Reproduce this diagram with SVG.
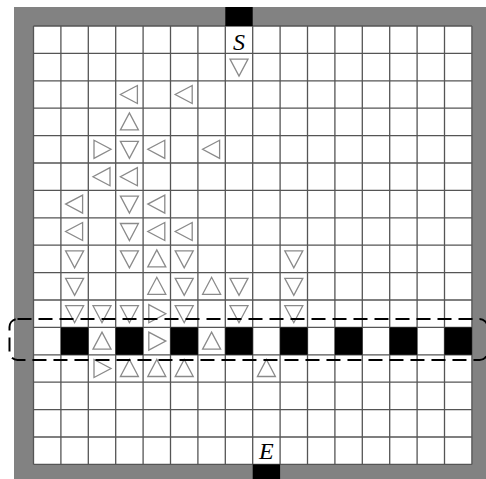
<svg xmlns="http://www.w3.org/2000/svg" xmlns:xlink="http://www.w3.org/1999/xlink" width="486" height="479" viewBox="0 0 486 479">
<style>
.grid{stroke:#555;stroke-width:1.3;fill:none}
.tri{fill:#fff;stroke:#8a8a8a;stroke-width:1.3;stroke-linejoin:miter}
.blk{fill:#000}
.lbl{font-family:"Liberation Serif","DejaVu Serif",serif;font-style:italic;font-size:24px;fill:#000;text-anchor:middle}
.dash{fill:none;stroke:#000;stroke-width:2;stroke-dasharray:14 7}
</style>
<defs>
<path id="D" class="tri" d="M-9,-8 L9,-8 L0,9 Z"/>
<path id="U" class="tri" d="M-9,8 L9,8 L0,-9 Z"/>
<path id="L" class="tri" d="M8,-9 L8,9 L-9,0 Z"/>
<path id="R" class="tri" d="M-8,-9 L-8,9 L9,0 Z"/>
</defs>
<rect x="0" y="0" width="486" height="479" fill="#fff"/>
<rect id="frame" x="14" y="7" width="472" height="472" fill="#828282"/>
<rect x="33.5" y="26" width="438.4" height="438.4" fill="#fff"/>
<g id="grid" class="grid">
<path d="M33.5,26V464.4M60.9,26V464.4M88.3,26V464.4M115.7,26V464.4M143.1,26V464.4M170.5,26V464.4M197.9,26V464.4M225.3,26V464.4M252.7,26V464.4M280.1,26V464.4M307.5,26V464.4M334.9,26V464.4M362.3,26V464.4M389.7,26V464.4M417.1,26V464.4M444.5,26V464.4M471.9,26V464.4"/>
<path d="M33.5,26H471.9M33.5,53.4H471.9M33.5,80.8H471.9M33.5,108.2H471.9M33.5,135.6H471.9M33.5,163H471.9M33.5,190.4H471.9M33.5,217.8H471.9M33.5,245.2H471.9M33.5,272.6H471.9M33.5,300H471.9M33.5,327.4H471.9M33.5,354.8H471.9M33.5,382.2H471.9M33.5,409.6H471.9M33.5,437H471.9M33.5,464.4H471.9"/>
</g>
<g id="start">
<rect class="blk" x="225.3" y="7" width="27.4" height="19"/>
<text class="lbl" x="239" y="50">S</text>
</g>
<g id="end">
<rect class="blk" x="252.7" y="464.4" width="27.4" height="14.6"/>
<text class="lbl" x="266.4" y="459">E</text>
</g>
<g id="wall">
<rect class="blk" x="60.9" y="327.4" width="27.4" height="27.4"/>
<rect class="blk" x="115.7" y="327.4" width="27.4" height="27.4"/>
<rect class="blk" x="170.5" y="327.4" width="27.4" height="27.4"/>
<rect class="blk" x="225.3" y="327.4" width="27.4" height="27.4"/>
<rect class="blk" x="280.1" y="327.4" width="27.4" height="27.4"/>
<rect class="blk" x="334.9" y="327.4" width="27.4" height="27.4"/>
<rect class="blk" x="389.7" y="327.4" width="27.4" height="27.4"/>
<rect class="blk" x="444.5" y="327.4" width="27.4" height="27.4"/>
</g>
<g id="arrows">
<use href="#D" x="239" y="67.1"/>
<use href="#L" x="129.4" y="94.5"/>
<use href="#L" x="184.2" y="94.5"/>
<use href="#U" x="129.4" y="121.9"/>
<use href="#R" x="102" y="149.3"/>
<use href="#D" x="129.4" y="149.3"/>
<use href="#L" x="156.8" y="149.3"/>
<use href="#L" x="211.6" y="149.3"/>
<use href="#L" x="102" y="176.7"/>
<use href="#L" x="129.4" y="176.7"/>
<use href="#L" x="74.6" y="204.1"/>
<use href="#D" x="129.4" y="204.1"/>
<use href="#L" x="156.8" y="204.1"/>
<use href="#L" x="74.6" y="231.5"/>
<use href="#D" x="129.4" y="231.5"/>
<use href="#L" x="156.8" y="231.5"/>
<use href="#L" x="184.2" y="231.5"/>
<use href="#D" x="74.6" y="258.9"/>
<use href="#D" x="129.4" y="258.9"/>
<use href="#U" x="156.8" y="258.9"/>
<use href="#D" x="184.2" y="258.9"/>
<use href="#D" x="293.8" y="258.9"/>
<use href="#D" x="74.6" y="286.3"/>
<use href="#U" x="156.8" y="286.3"/>
<use href="#D" x="184.2" y="286.3"/>
<use href="#U" x="211.6" y="286.3"/>
<use href="#D" x="239" y="286.3"/>
<use href="#D" x="293.8" y="286.3"/>
<use href="#D" x="74.6" y="313.7"/>
<use href="#D" x="102" y="313.7"/>
<use href="#D" x="129.4" y="313.7"/>
<use href="#R" x="156.8" y="313.7"/>
<use href="#D" x="184.2" y="313.7"/>
<use href="#D" x="239" y="313.7"/>
<use href="#D" x="293.8" y="313.7"/>
<use href="#U" x="102" y="341.1"/>
<use href="#R" x="156.8" y="341.1"/>
<use href="#U" x="211.6" y="341.1"/>
<use href="#R" x="102" y="368.5"/>
<use href="#U" x="129.4" y="368.5"/>
<use href="#U" x="156.8" y="368.5"/>
<use href="#U" x="184.2" y="368.5"/>
<use href="#U" x="266.4" y="368.5"/>
</g>
<g id="highlight">
<rect class="dash" x="9.5" y="319" width="478" height="41" rx="8"/>
</g>
</svg>
